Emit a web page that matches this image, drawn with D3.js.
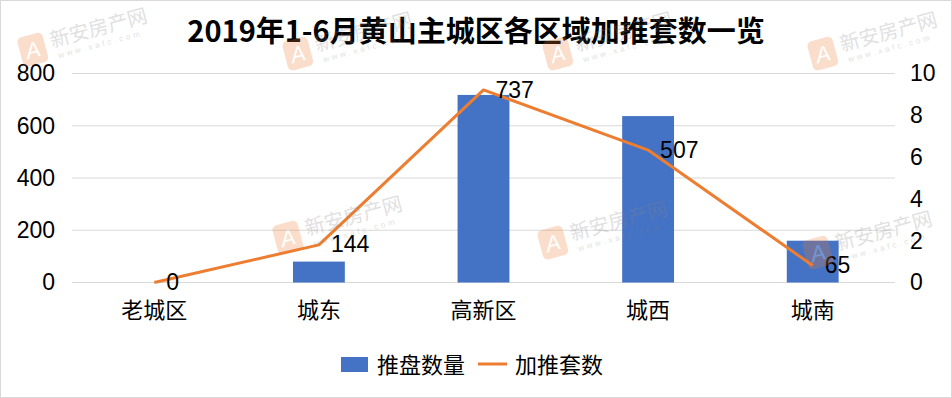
<!DOCTYPE html>
<html>
<head>
<meta charset="utf-8">
<script src="https://cdn.jsdelivr.net/npm/d3@7"></script>
<style>
  body { margin: 0; background: #fff; }
  text { font-family: "Liberation Sans", "Noto Sans CJK SC", sans-serif; }
  .cjk { font-family: "Noto Sans CJK SC", sans-serif; }
</style>
</head>
<body>
<div id="chart"></div>
<script>
// data
var categories = ["老城区", "城东", "高新区", "城西", "城南"];
var barValues = [0, 80, 718, 637, 160];      // 推盘数量
var lineValues = [0, 144, 737, 507, 65];     // 加推套数
var leftTicks = [0, 200, 400, 600, 800];
var rightTicks = [0, 2, 4, 6, 8, 10];
var title = "2019年1-6月黄山主城区各区域加推套数一览";
var seriesNames = ["推盘数量", "加推套数"];

var W = 952, H = 398;
var margin = { top: 73.5, right: 57, bottom: 115.5, left: 72 };
var width = W - margin.left - margin.right;
var height = H - margin.top - margin.bottom;

var blue = "#4472C4", orange = "#ED7D31", grid = "#d9d9d9";

var svg = d3.select("#chart").append("svg")
    .attr("width", W)
    .attr("height", H);

// outer border
svg.append("rect")
    .attr("x", 0.5).attr("y", 0.5)
    .attr("width", W - 1).attr("height", H - 1)
    .attr("fill", "#fff")
    .attr("stroke", grid);

var g = svg.append("g")
    .attr("transform", "translate(" + margin.left + "," + margin.top + ")");

// scales
var x = d3.scaleBand().domain(categories).range([0, width]);
var y = d3.scaleLinear().domain([0, 800]).range([height, 0]);
var y2 = d3.scaleLinear().domain([0, 10]).range([height, 0]);

// gridlines
g.selectAll(".grid").data(leftTicks).enter().append("line")
    .attr("x1", 0).attr("x2", width)
    .attr("y1", function(d) { return y(d); })
    .attr("y2", function(d) { return y(d); })
    .attr("stroke", grid)
    .attr("stroke-width", 1);

// left axis labels
g.append("g")
    .call(d3.axisLeft(y).tickValues(leftTicks).tickSize(0).tickPadding(17))
    .call(function(a) { a.select(".domain").remove(); })
    .selectAll("text")
    .attr("font-size", 23)
    .attr("fill", "#000")
    .style("font-family", "Liberation Sans, sans-serif");

// right axis labels
g.append("g")
    .attr("transform", "translate(" + width + ",0)")
    .call(d3.axisRight(y2).tickValues(rightTicks).tickSize(0).tickPadding(15))
    .call(function(a) { a.select(".domain").remove(); })
    .selectAll("text")
    .attr("font-size", 23)
    .attr("fill", "#000")
    .style("font-family", "Liberation Sans, sans-serif");

// category axis
g.append("g")
    .attr("transform", "translate(0," + height + ")")
    .call(d3.axisBottom(x).tickSize(0).tickPadding(20))
    .call(function(a) { a.select(".domain").remove(); })
    .selectAll("text")
    .attr("font-size", 22)
    .attr("fill", "#000")
    .style("font-family", "Noto Sans CJK SC, sans-serif");

// bars
var barW = x.bandwidth() * 0.315;
g.selectAll(".bar").data(barValues).enter().append("rect")
    .attr("class", "bar")
    .attr("x", function(d, i) { return x(categories[i]) + x.bandwidth() / 2 - barW / 2; })
    .attr("y", function(d) { return y(d); })
    .attr("width", barW)
    .attr("height", function(d) { return height - y(d); })
    .attr("fill", blue);

// line
var line = d3.line()
    .x(function(d, i) { return x(categories[i]) + x.bandwidth() / 2; })
    .y(function(d) { return y(d); });

g.append("path")
    .datum(lineValues)
    .attr("d", line)
    .attr("fill", "none")
    .attr("stroke", orange)
    .attr("stroke-width", 3)
    .attr("stroke-linejoin", "round");

// data labels
g.selectAll(".lbl").data(lineValues).enter().append("text")
    .attr("x", function(d, i) { return x(categories[i]) + x.bandwidth() / 2 + 12; })
    .attr("y", function(d) { return y(d); })
    .attr("dy", "0.33em")
    .attr("font-size", 23)
    .attr("fill", "#000")
    .text(function(d) { return d; });

// title
svg.append("text")
    .attr("class", "cjk")
    .attr("x", W / 2)
    .attr("y", 42)
    .attr("text-anchor", "middle")
    .attr("font-size", 29)
    .attr("font-weight", "bold")
    .attr("fill", "#000")
    .text(title);

// legend
var lg = svg.append("g").attr("transform", "translate(341,0)");
lg.append("rect")
    .attr("x", 0).attr("y", 357)
    .attr("width", 27).attr("height", 15)
    .attr("fill", blue);
lg.append("text")
    .attr("class", "cjk")
    .attr("x", 36).attr("y", 365)
    .attr("dy", "0.36em")
    .attr("font-size", 22)
    .text(seriesNames[0]);
lg.append("line")
    .attr("x1", 137).attr("x2", 166)
    .attr("y1", 364).attr("y2", 364)
    .attr("stroke", orange)
    .attr("stroke-width", 3);
lg.append("text")
    .attr("class", "cjk")
    .attr("x", 174).attr("y", 365)
    .attr("dy", "0.36em")
    .attr("font-size", 22)
    .text(seriesNames[1]);

// watermarks
var marks = [[20, 52], [285, 56], [545, 56], [810, 56], [275, 240], [540, 245], [805, 255]];
marks.forEach(function(p) {
    var wm = svg.append("g")
        .attr("transform", "translate(" + p[0] + "," + p[1] + ") rotate(-15)")
        .attr("opacity", 0.25);
    wm.append("rect")
        .attr("x", 0).attr("y", -14).attr("width", 26).attr("height", 30)
        .attr("rx", 5)
        .attr("fill", orange);
    wm.append("text")
        .attr("x", 13).attr("y", 9)
        .attr("text-anchor", "middle")
        .attr("font-size", 22).attr("font-style", "italic")
        .attr("fill", "#fff")
        .text("A");
    wm.append("text")
        .attr("class", "cjk")
        .attr("x", 32).attr("y", 4)
        .attr("font-size", 20)
        .attr("fill", "#888")
        .text("新安房产网");
    wm.append("text")
        .attr("x", 36).attr("y", 16)
        .attr("font-size", 8)
        .attr("letter-spacing", 3)
        .attr("fill", "#888")
        .text("www.xafc.com");
});
</script>
</body>
</html>
